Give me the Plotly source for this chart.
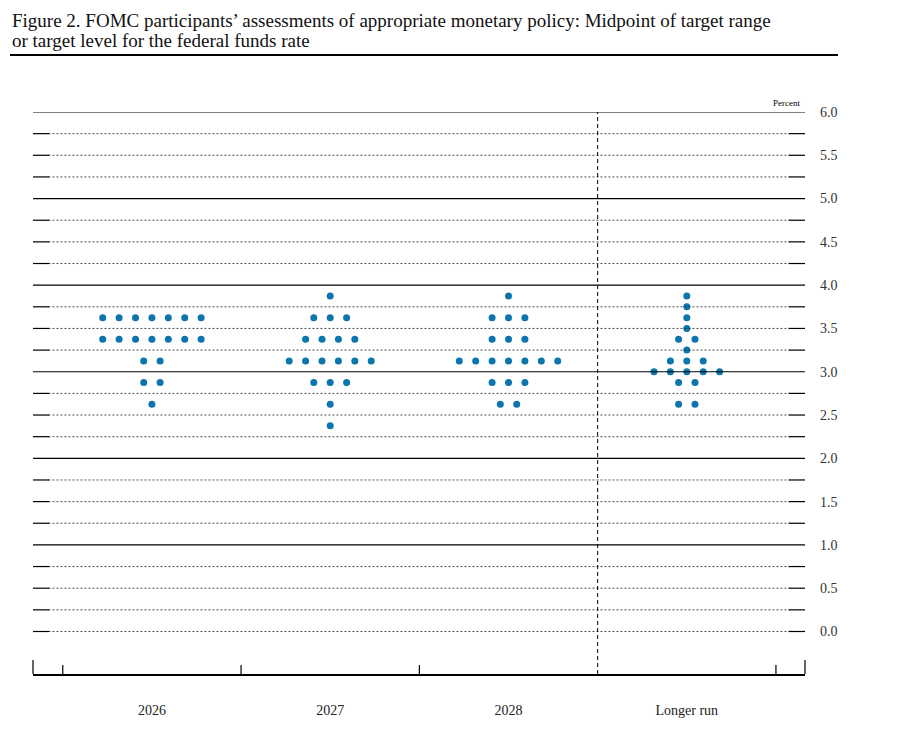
import plotly.graph_objects as go

# dot plot data: rate level (midpoint) and number of participants at that level
categories = ["2026", "2027", "2028", "Longer run"]

levels_2026 = [3.625, 3.375, 3.125, 2.875, 2.625]
counts_2026 = [7, 7, 2, 2, 1]

levels_2027 = [3.875, 3.625, 3.375, 3.125, 2.875, 2.625, 2.375]
counts_2027 = [1, 3, 4, 6, 3, 1, 1]

levels_2028 = [3.875, 3.625, 3.375, 3.125, 2.875, 2.625]
counts_2028 = [1, 3, 3, 7, 3, 2]

levels_lr = [3.875, 3.75, 3.625, 3.5, 3.375, 3.25, 3.125, 3.0, 2.875, 2.625]
counts_lr = [1, 1, 1, 1, 2, 1, 3, 5, 2, 2]

y_ticks = [0.0, 0.5, 1.0, 1.5, 2.0, 2.5, 3.0, 3.5, 4.0, 4.5, 5.0, 5.5, 6.0]

columns = [(levels_2026, counts_2026), (levels_2027, counts_2027),
           (levels_2028, counts_2028), (levels_lr, counts_lr)]

dot_step = 0.092  # horizontal spacing between dots in a row

xs, ys = [], []
for i, (levels, counts) in enumerate(columns):
    for lev, n in zip(levels, counts):
        for k in range(n):
            xs.append(i + (k - (n - 1) / 2) * dot_step)
            ys.append(lev)

fig = go.Figure()

# horizontal grid lines every 0.25
shapes = []
grid_levels = [q / 4 for q in range(0, 25)]
for g in grid_levels:
    if g == int(g) and g > 0:
        shapes.append(dict(type="line", xref="paper", yref="y", x0=0, x1=1, y0=g, y1=g,
                           line=dict(color="black", width=1.2)))
    else:
        shapes.append(dict(type="line", xref="paper", yref="y", x0=0.02, x1=0.98, y0=g, y1=g,
                           line=dict(color="#222", width=0.8, dash="2px,2px")))
        shapes.append(dict(type="line", xref="paper", yref="y", x0=0, x1=0.021, y0=g, y1=g,
                           line=dict(color="black", width=1.2)))
        shapes.append(dict(type="line", xref="paper", yref="y", x0=0.979, x1=1, y0=g, y1=g,
                           line=dict(color="black", width=1.2)))

# vertical dashed separator before longer run
shapes.append(dict(type="line", xref="x", yref="paper", x0=2.5, x1=2.5, y0=0, y1=1,
                   line=dict(color="black", width=1, dash="4px,3px")))

# short ticks on the bottom axis at category boundaries
for b in [-0.5, 0.5, 1.5, 3.5]:
    shapes.append(dict(type="line", xref="x", yref="paper", x0=b, x1=b, y0=0, y1=0.016,
                       line=dict(color="black", width=1.2)))
# taller end ticks
for e in [0, 1]:
    shapes.append(dict(type="line", xref="paper", yref="paper", x0=e, x1=e, y0=0, y1=0.025,
                       line=dict(color="black", width=1.2)))

# rule under the title
shapes.append(dict(type="line", xref="paper", yref="paper", x0=-0.0298, x1=1.0427,
                   y0=1.1014, y1=1.1014, line=dict(color="black", width=2)))

fig.add_trace(go.Scatter(
    x=xs, y=ys, mode="markers",
    marker=dict(size=7, color="#0b75ad", line=dict(width=0)),
    cliponaxis=False, showlegend=False, hoverinfo="y"))

title_line1 = "Figure 2. FOMC participants’ assessments of appropriate monetary policy: Midpoint of target range"
title_line2 = "or target level for the federal funds rate"
title_font = dict(family="Liberation Serif", size=19, color="#111")

fig.update_layout(
    width=904, height=732,
    margin=dict(l=25, r=107, t=104, b=66),
    paper_bgcolor="white", plot_bgcolor="white",
    shapes=shapes,
    annotations=[
        dict(text=title_line1, xref="paper", yref="paper", x=-0.0298, y=1.1637,
             xanchor="left", yanchor="middle", showarrow=False, font=title_font),
        dict(text=title_line2, xref="paper", yref="paper", x=-0.0298, y=1.1281,
             xanchor="left", yanchor="middle", showarrow=False, font=title_font),
        dict(text="Percent", xref="paper", yref="paper", x=0.9961, y=1.016,
             xanchor="right", yanchor="middle", showarrow=False,
             font=dict(family="Liberation Serif", size=9, color="black")),
    ],
)

fig.update_xaxes(
    range=[-0.667, 3.663], tickvals=[0, 1, 2, 3], ticktext=categories,
    showgrid=False, zeroline=False, showline=True, linecolor="black", linewidth=1.5,
    ticks="", ticklabelstandoff=22,
    tickfont=dict(family="Liberation Serif", size=14, color="#222"))

fig.update_yaxes(
    range=[-0.491, 6.0], tickvals=y_ticks, ticktext=[f"{v:.1f}" for v in y_ticks],
    side="right", showgrid=False, zeroline=False, showline=False, ticks="",
    ticklabelstandoff=14,
    tickfont=dict(family="Liberation Serif", size=14, color="#333"))

fig.write_html("out.html")
